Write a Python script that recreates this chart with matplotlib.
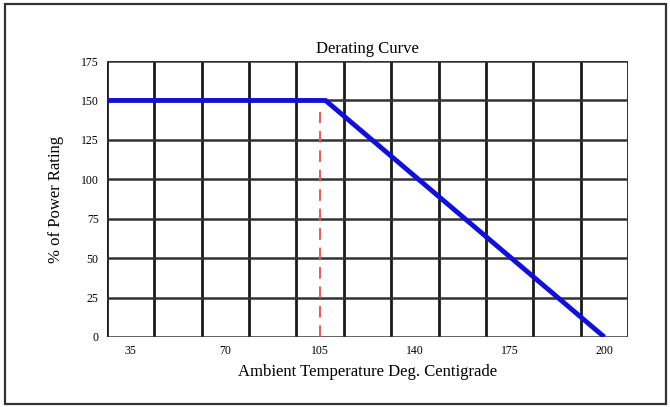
import matplotlib
matplotlib.use("Agg")
import matplotlib.pyplot as plt
from matplotlib.patches import Rectangle

# ----- datos -----
# eje x en grados, 17.5 grados por celda de la reticula
temp_curva = [26.25, 107.0, 210.0]
potencia_curva = [150, 150, 0]

temp_limite = [105, 105]
potencia_limite = [0, 143]

ticks_x = [35, 70, 105, 140, 175, 210]
etiquetas_x = ["35", "70", "105", "140", "175", "200"]
ticks_y = [0, 25, 50, 75, 100, 125, 150, 175]
rejilla_x = [26.25 + 17.5 * i for i in range(12)]

plt.rcParams['font.family'] = ['Liberation Serif', 'DejaVu Serif']

fig = plt.figure(figsize=(6.7, 4.07), dpi=100)
fig.patches.append(Rectangle((0.007, 0.007), 0.987, 0.982, transform=fig.transFigure,
                             fill=False, edgecolor='#333333', linewidth=1.6))

ax = fig.add_axes([0.1597, 0.172, 0.7776, 0.678])
ax.set_xlim(rejilla_x[0], rejilla_x[-1])
ax.set_ylim(0, 175)

# reticula
for xv in rejilla_x:
    ax.axvline(xv, color='#1a1a1a', linewidth=2.0, zorder=1)
for yv in ticks_y:
    ax.axhline(yv, color='#333333', linewidth=1.8, zorder=1)

ax.plot(temp_limite, potencia_limite, color='#e85a5a', linewidth=1.4,
        dashes=(6, 4), zorder=2)
ax.plot(temp_curva, potencia_curva, color='#1010dd', linewidth=3.5,
        solid_capstyle='butt', zorder=3)

ax.set_xticks(ticks_x)
ax.set_xticklabels(etiquetas_x)
ax.set_yticks(ticks_y)
ax.tick_params(length=0, labelsize=8.5, pad=6)
for s in ax.spines.values():
    s.set_visible(False)

ax.set_title('Derating Curve', fontsize=12, pad=6)
ax.set_xlabel('Ambient Temperature Deg. Centigrade', fontsize=12, labelpad=5)
ax.set_ylabel('% of Power Rating', fontsize=12, labelpad=12)

fig.savefig('out.png', dpi=100)
